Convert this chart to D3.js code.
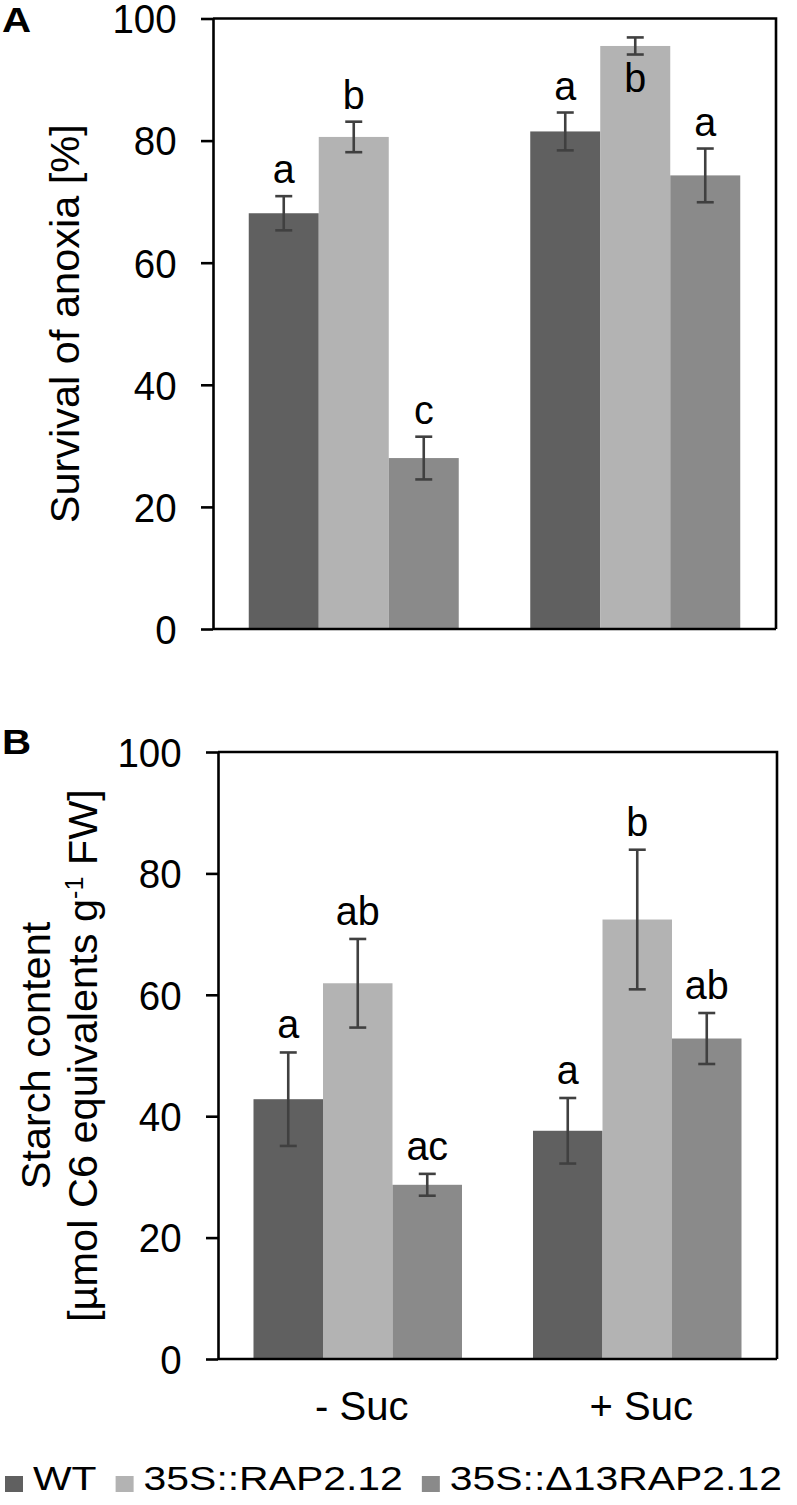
<!DOCTYPE html>
<html>
<head>
<meta charset="utf-8">
<script src="https://cdn.jsdelivr.net/npm/d3@7"></script>
<style>
  html, body { margin: 0; padding: 0; background: #fff; }
  svg { display: block; font-family: "Liberation Sans", Arial, sans-serif; }
  .plabel { font-size: 36px; font-weight: 700; font-family: "Liberation Sans", Arial, sans-serif; }
</style>
</head>
<body>
<svg id="chart" width="797" height="1505"></svg>
<script>
// ---------- data ----------
const groups = ["- Suc", "+ Suc"];
const seriesNames = ["WT", "35S::RAP2.12", "35S::\u039413RAP2.12"];
const seriesColors = ["#606060", "#b3b3b3", "#8a8a8a"];
const yTicks = [0, 20, 40, 60, 80, 100];

// Panel A: survival of anoxia [%]
const survivalWT  = [68.1, 81.5];
const survivalRAP = [80.6, 95.5];
const survivalD13 = [28.0, 74.3];
const survivalErrWT  = [2.8, 3.1];
const survivalErrRAP = [2.5, 1.4];
const survivalErrD13 = [3.5, 4.4];
const survivalLetWT  = ["a", "a"];
const survivalLetRAP = ["b", "b"];
const survivalLetD13 = ["c", "a"];
const survivalLetInsideRAP = [false, true];

// Panel B: starch content
const starchWT  = [42.8, 37.6];
const starchRAP = [61.9, 72.4];
const starchD13 = [28.7, 52.8];
const starchErrWT  = [7.7, 5.4];
const starchErrRAP = [7.3, 11.5];
const starchErrD13 = [1.8, 4.2];
const starchLetWT  = ["a", "a"];
const starchLetRAP = ["ab", "b"];
const starchLetD13 = ["ac", "ab"];

// ---------- drawing ----------
const svg = d3.select("#chart");

function buildRows(vals, errs, lets, inside) {
  const rows = [];
  groups.forEach((g, gi) => {
    seriesNames.forEach((s, si) => {
      rows.push({
        group: g, series: s, si,
        value: vals[si][gi], err: errs[si][gi], letter: lets[si][gi],
        inside: inside ? inside[si][gi] : false
      });
    });
  });
  return rows;
}

function drawPanel(opt) {
  const { left, right, top, bottom, rows, panelLabel, labelY, titleLines, titleXs, letterGap } = opt;
  const g = svg.append("g");
  const x = d3.scaleBand().domain(groups).range([left, right])
    .paddingInner(0.254).paddingOuter(0.127);
  const xs = d3.scaleBand().domain(seriesNames).range([0, x.bandwidth()]).padding(0);
  const y = d3.scaleLinear().domain([0, 100]).range([bottom, top]);

  // bars
  g.selectAll("rect.bar").data(rows).enter().append("rect")
    .attr("class", "bar")
    .attr("x", d => x(d.group) + xs(d.series))
    .attr("width", xs.bandwidth())
    .attr("y", d => y(d.value))
    .attr("height", d => y(0) - y(d.value))
    .attr("fill", d => seriesColors[d.si]);

  // error bars
  const eb = g.selectAll("g.err").data(rows).enter().append("g").attr("class", "err")
    .attr("stroke", "#404040").attr("stroke-width", 2.6);
  const cx = d => x(d.group) + xs(d.series) + xs.bandwidth() / 2;
  eb.append("line").attr("x1", cx).attr("x2", cx)
    .attr("y1", d => y(d.value + d.err)).attr("y2", d => y(d.value - d.err));
  eb.append("line").attr("x1", d => cx(d) - 8.5).attr("x2", d => cx(d) + 8.5)
    .attr("y1", d => y(d.value + d.err)).attr("y2", d => y(d.value + d.err));
  eb.append("line").attr("x1", d => cx(d) - 8.5).attr("x2", d => cx(d) + 8.5)
    .attr("y1", d => y(d.value - d.err)).attr("y2", d => y(d.value - d.err));

  // significance letters
  g.selectAll("text.let").data(rows).enter().append("text")
    .attr("class", "let")
    .attr("transform", d => `translate(${cx(d)},${d.inside ? y(d.value - d.err) + 37 : y(d.value + d.err) - letterGap}) scale(1.04,1.08)`)
    .attr("text-anchor", "middle")
    .style("font-size", "38px")
    .attr("fill", "#000")
    .text(d => d.letter);

  // frame (top + right)
  g.append("path")
    .attr("d", `M${left},${top}H${right}V${bottom}`)
    .attr("fill", "none").attr("stroke", "#000").attr("stroke-width", 2.6);
  // bottom axis line
  g.append("line").attr("x1", left).attr("x2", right).attr("y1", bottom).attr("y2", bottom)
    .attr("stroke", "#000").attr("stroke-width", 2.6);

  // y axis
  const ax = g.append("g").attr("transform", `translate(${left},0)`)
    .call(d3.axisLeft(y).tickValues(yTicks).tickSize(12).tickPadding(23).tickSizeOuter(0));
  ax.select(".domain").attr("stroke", "#000").attr("stroke-width", 2.6);
  ax.selectAll(".tick line").attr("stroke", "#000").attr("stroke-width", 2.6);
  ax.selectAll(".tick text").style("font-size", "37px").attr("fill", "#000")
    .style("font-family", "'Liberation Sans', Arial, sans-serif").attr("dy", "0.36em")
    .attr("transform", "scale(1.04,1.08)");

  // panel label
  g.append("text").attr("class", "plabel")
    .attr("transform", `translate(2,${labelY}) scale(1.12,1)`)
    .attr("font-size", 34)
    .text(panelLabel);

  // y title
  const cy = (top + bottom) / 2;
  titleLines.forEach((line, i) => {
    const t = g.append("text")
      .attr("transform", `translate(${titleXs[i]},${cy}) rotate(-90)`)
      .attr("text-anchor", "middle").style("font-size", "41.5px").attr("fill", "#000");
    line.forEach(part => {
      const ts = t.append("tspan").text(part.t);
      if (part.sup) ts.style("font-size", "25px").attr("baseline-shift", "super");
    });
  });
  return { x };
}

const rowsA = buildRows(
  [survivalWT, survivalRAP, survivalD13],
  [survivalErrWT, survivalErrRAP, survivalErrD13],
  [survivalLetWT, survivalLetRAP, survivalLetD13],
  [[false, false], survivalLetInsideRAP, [false, false]]
);
drawPanel({
  left: 213, right: 776, top: 18.5, bottom: 629, rows: rowsA,
  panelLabel: "A", labelY: 32, letterGap: 13,
  titleLines: [[{ t: "Survival of anoxia [%]" }]], titleXs: [79]
});

const rowsB = buildRows(
  [starchWT, starchRAP, starchD13],
  [starchErrWT, starchErrRAP, starchErrD13],
  [starchLetWT, starchLetRAP, starchLetD13],
  null
);
const pB = drawPanel({
  left: 218, right: 777, top: 752, bottom: 1359, rows: rowsB,
  panelLabel: "B", labelY: 754, letterGap: 14,
  titleLines: [
    [{ t: "Starch content" }],
    [{ t: "[\u00b5mol C6 equivalents g" }, { t: "-1", sup: true }, { t: " FW]" }]
  ],
  titleXs: [50, 97]
});

// x category labels (bottom panel)
svg.append("g").selectAll("text").data(groups).enter().append("text")
  .attr("x", d => pB.x(d) + pB.x.bandwidth() / 2 + 4)
  .attr("y", 1420)
  .attr("text-anchor", "middle").style("font-size", "40px").attr("fill", "#000")
  .text(d => d);

// legend
const lg = svg.append("g");
let lx = 5;
const sx = 1.24;
seriesNames.forEach((name, i) => {
  lg.append("rect").attr("x", lx).attr("y", 1476).attr("width", 18).attr("height", 16)
    .attr("fill", seriesColors[i]);
  const tx = lx + 28;
  const t = lg.append("text")
    .attr("transform", `translate(${tx},1490) scale(${sx},1)`)
    .style("font-size", "33px").attr("fill", "#000").text(name);
  const w = t.node().getComputedTextLength() * sx;
  lx = tx + w + 19;
});
</script>
</body>
</html>
